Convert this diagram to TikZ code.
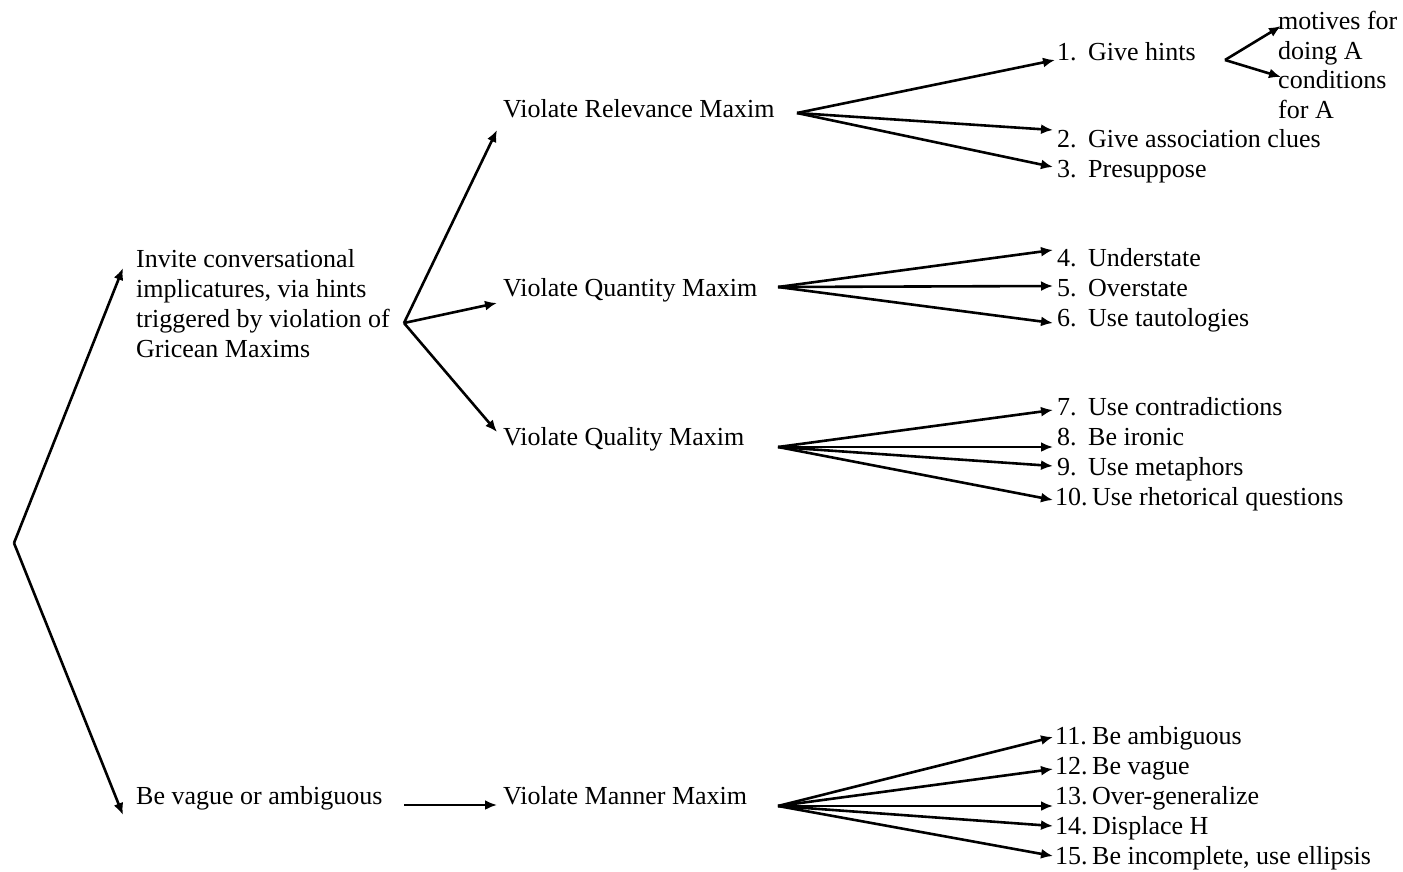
\documentclass[tikz,border=0pt]{standalone}
\usepackage{fontspec}
\setmainfont{Liberation Serif}
\usetikzlibrary{arrows.meta}
\tikzset{
  lbl/.style={anchor=base west, inner sep=0pt, font=\fontsize{26}{30}\selectfont, align=left},
  arr/.style={line width=2.6pt, -{Latex[length=12pt,width=10pt]}},
}
\newcommand{\num}[1]{\makebox[31pt][l]{#1}}
\newcommand{\numw}[1]{\makebox[37pt][l]{#1}}
\begin{document}
\begin{tikzpicture}[x=1pt,y=-1pt]
\useasboundingbox (0,0) rectangle (1403,871);

% text nodes (multi-line nodes sit on the baseline of their last line)
\node[lbl] (inv) at (136,357) {Invite conversational\\implicatures, via hints\\triggered by violation of\\Gricean Maxims};
\node[lbl] (bva) at (136,804) {Be vague or ambiguous};
\node[lbl] (rel) at (503,117) {Violate Relevance Maxim};
\node[lbl] (qty) at (503,296) {Violate Quantity Maxim};
\node[lbl] (qlt) at (503,445) {Violate Quality Maxim};
\node[lbl] (man) at (503,804) {Violate Manner Maxim};

\node[lbl] (i1) at (1057,60) {\num{1.}Give hints};
\node[lbl] (i2) at (1057,147) {\num{2.}Give association clues};
\node[lbl] (i3) at (1057,177) {\num{3.}Presuppose};
\node[lbl] (mot) at (1278,59) {motives for\\doing A};
\node[lbl] (cnd) at (1278,118) {conditions\\for A};

\node[lbl] (i4) at (1057,266) {\num{4.}Understate};
\node[lbl] (i5) at (1057,296) {\num{5.}Overstate};
\node[lbl] (i6) at (1057,326) {\num{6.}Use tautologies};

\node[lbl] (i7) at (1057,415) {\num{7.}Use contradictions};
\node[lbl] (i8) at (1057,445) {\num{8.}Be ironic};
\node[lbl] (i9) at (1057,475) {\num{9.}Use metaphors};
\node[lbl] (i10) at (1055,505) {\numw{10.}Use rhetorical questions};

\node[lbl] (i11) at (1055,744) {\numw{11.}Be ambiguous};
\node[lbl] (i12) at (1055,774) {\numw{12.}Be vague};
\node[lbl] (i13) at (1055,804) {\numw{13.}Over-generalize};
\node[lbl] (i14) at (1055,834) {\numw{14.}Displace H};
\node[lbl] (i15) at (1055,864) {\numw{15.}Be incomplete, use ellipsis};

% branch points
\coordinate (root) at (14,543);
\coordinate (hubG) at (404,323);
\coordinate (hubB) at (404,805);
\coordinate (relS) at (797,113);
\coordinate (qtyS) at (778,287);
\coordinate (qltS) at (778,447);
\coordinate (manS) at (778,806);
\coordinate (hintS) at (1225,60);

% arrow ends
\coordinate (tInv) at (123,268);
\coordinate (tBva) at (123,815);
\coordinate (tRel) at (497,130);
\coordinate (tQty) at (497,303);
\coordinate (tQlt) at (497,432);
\coordinate (tMan) at (497,805);
\coordinate (t1) at (1055,60);
\coordinate (t2) at (1053,130);
\coordinate (t3) at (1053,167);
\coordinate (tMot) at (1281,26);
\coordinate (tCnd) at (1281,77);
\coordinate (t4) at (1053,250);
\coordinate (t5) at (1053,286);
\coordinate (t6) at (1053,323);
\coordinate (t7) at (1053,410);
\coordinate (t8) at (1053,447);
\coordinate (t9) at (1053,466);
\coordinate (t10) at (1053,500);
\coordinate (t11) at (1053,737);
\coordinate (t12) at (1053,769);
\coordinate (t13) at (1053,806);
\coordinate (t14) at (1053,826);
\coordinate (t15) at (1053,856);

% connectors
\draw[arr] (root) -- (tInv);
\draw[arr] (root) -- (tBva);
\draw[arr] (hubG) -- (tRel);
\draw[arr] (hubG) -- (tQty);
\draw[arr] (hubG) -- (tQlt);
\draw[arr] (hubB) -- (tMan);

\foreach \t in {t1,t2,t3} \draw[arr] (relS) -- (\t);
\foreach \t in {tMot,tCnd} \draw[arr] (hintS) -- (\t);
\foreach \t in {t4,t5,t6} \draw[arr] (qtyS) -- (\t);
\foreach \t in {t7,t8,t9,t10} \draw[arr] (qltS) -- (\t);
\foreach \t in {t11,t12,t13,t14,t15} \draw[arr] (manS) -- (\t);
\end{tikzpicture}
\end{document}
